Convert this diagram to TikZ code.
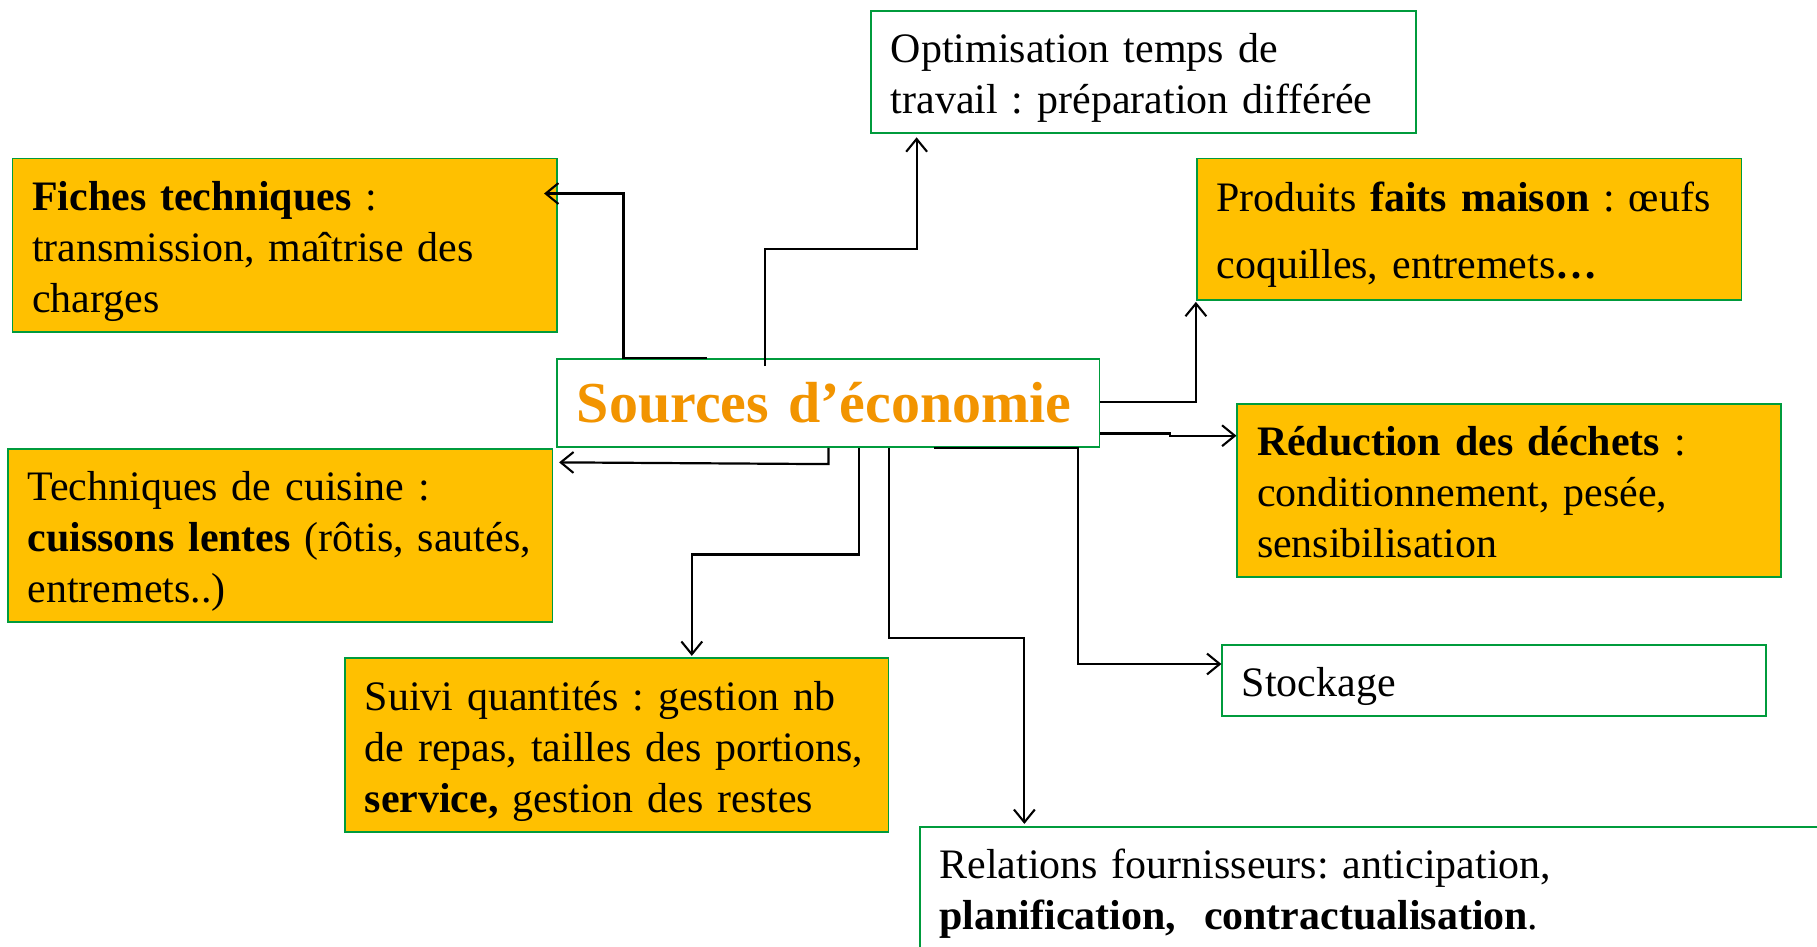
\documentclass[tikz,border=0pt]{standalone}
\usepackage{fontspec}
\setmainfont{Liberation Serif}
\usetikzlibrary{arrows.meta}
\definecolor{boxgold}{RGB}{255,192,0}
\definecolor{boxgreen}{RGB}{0,155,60}
\definecolor{titleorange}{RGB}{242,148,0}
\begin{document}
\frenchspacing
\begin{tikzpicture}[x=1pt,y=-1pt,
  box/.style={draw=boxgreen, line width=1.5pt, rectangle, anchor=north west,
    inner xsep=17pt, inner ysep=0pt, align=left,
    font=\fontsize{36.2}{44}\selectfont\frenchspacing,
    % fixed struts so every box centres its lines the same way
    execute at begin node={\rule{0pt}{38pt}},
    execute at end node={\rule[-10pt]{0pt}{10pt}}},
  goldbox/.style={box, fill=boxgold},
  whitebox/.style={box, fill=white},
  arr/.style={draw=black, line width=1.9pt,
    -{Straight Barb[length=11pt,width=18pt,line width=1.8pt]}}]
\useasboundingbox (0,0) rectangle (1568,817);
\clip (0,0) rectangle (1568,817);
\fill[white] (0,0) rectangle (1568,817);

% the boxes
\node[whitebox, minimum width=470pt, minimum height=105pt, text width=436pt] (opt) at (751,9)
  {\mbox{Optimisation temps de}\\\mbox{travail : préparation différée}};
\node[goldbox, minimum width=470pt, minimum height=150pt, text width=436pt] (fiche) at (10,136)
  {\mbox{\textbf{Fiches techniques} :}\\\mbox{transmission, maîtrise des}\\charges};
\node[goldbox, minimum width=470pt, minimum height=122pt, text width=436pt] (prod) at (1032,136)
  {\mbox{Produits \textbf{faits maison} : œufs}\\[14pt]\mbox{coquilles, entremets{\bfseries …}}};
\node[draw=boxgreen, line width=1.5pt, fill=white, anchor=north west, minimum width=468pt, minimum height=76pt,
  inner xsep=0pt, inner ysep=0pt, text width=468pt, align=center,
  font=\fontsize{50}{56}\selectfont\bfseries, text=titleorange] (src) at (480,309)
  {\hspace*{-7pt}Sources d’économie};
\node[goldbox, minimum width=469pt, minimum height=149pt, text width=435pt] (red) at (1067,348)
  {\mbox{\textbf{Réduction des déchets} :}\\\mbox{conditionnement, pesée,}\\sensibilisation};
\node[goldbox, minimum width=470pt, minimum height=149pt, text width=436pt] (tech) at (6,387)
  {\mbox{Techniques de cuisine :}\\\mbox{\textbf{cuissons lentes} (rôtis, sautés,}\\\mbox{entremets..)}};
\node[goldbox, minimum width=469pt, minimum height=150pt, text width=435pt] (suivi) at (297,567)
  {\mbox{Suivi quantités : gestion nb}\\\mbox{de repas, tailles des portions,}\\\mbox{\textbf{service,} gestion des restes}};
\node[whitebox, minimum width=469pt, minimum height=61pt, text width=435pt] (stock) at (1054,556)
  {Stockage};
\node[whitebox, minimum width=900pt, minimum height=105pt, text width=866pt] (rel) at (793,713)
  {\mbox{Relations fournisseurs: anticipation,}\\\mbox{\textbf{planification,}\ \ \textbf{contractualisation}.}};

% connectors from the central box
\draw[arr] ([xshift=130pt]src.north west) -- ++(-72,0)
  |- ([xshift=-12pt,yshift=-31pt]fiche.north east);
\draw[arr] ([xshift=180pt,yshift=-7pt]src.north west) -- ++(0,-101)
  -| ([xshift=40pt,yshift=-3pt]opt.south west);
\draw[arr] ([yshift=-38pt]src.north east) -| ([yshift=-1pt]prod.south west);
\draw[arr] ([yshift=-65pt]src.north east) -- ++(60,0) -- ++(0,2)
  -- ([yshift=-28pt]red.north west);
\draw[arr] ([xshift=235pt]src.south west) -- ++(0,14)
  -- ([xshift=5pt,yshift=-12pt]tech.north east);
\draw[arr] ([xshift=261pt]src.south west) -- ++(0,92)
  -| ([xshift=300pt,yshift=1pt]suivi.north west);
\draw[arr] ([xshift=287pt]src.south west) -- ++(0,164)
  -| ([xshift=91pt,yshift=2pt]rel.north west);
\draw[arr] ([xshift=326pt]src.south west) -- ++(124,0)
  |- ([yshift=-17pt]stock.north west);
\end{tikzpicture}
\end{document}
